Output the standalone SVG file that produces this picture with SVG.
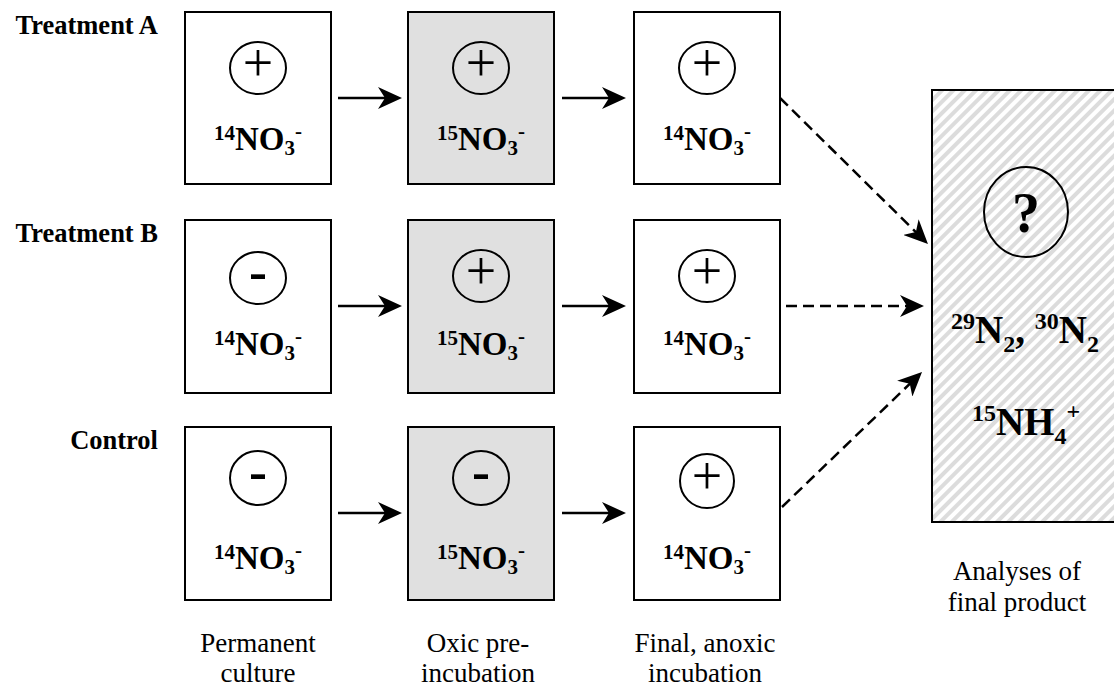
<svg xmlns="http://www.w3.org/2000/svg" width="1114" height="688" viewBox="0 0 1114 688">
<style>
.box{fill:#fff;stroke:#000;stroke-width:2}
.gbox{fill:#e0e0e0;stroke:#000;stroke-width:2}
.circ{fill:none;stroke:#000;stroke-width:2}
.lbl{font-family:"Liberation Serif","Times New Roman",serif;font-weight:bold;font-size:26.5px;text-anchor:end}
.chem{font-family:"Liberation Serif","Times New Roman",serif;font-weight:bold;font-size:33px;text-anchor:middle}
.big{font-family:"Liberation Serif","Times New Roman",serif;font-weight:bold;font-size:39px;text-anchor:middle}
.q{font-family:"Liberation Serif","Times New Roman",serif;font-weight:bold;font-size:56px;text-anchor:middle}
.plus{font-family:"Liberation Serif","Times New Roman",serif;font-size:54px;text-anchor:middle}
.minus{font-family:"Liberation Serif","Times New Roman",serif;font-weight:bold;font-size:54px;text-anchor:middle}
.cap{font-family:"Liberation Serif","Times New Roman",serif;font-size:27px;text-anchor:middle}
.arr{stroke:#000;stroke-width:2.5;fill:none;marker-end:url(#ah)}
.darr{stroke:#000;stroke-width:2.5;fill:none;stroke-dasharray:11 6;marker-end:url(#ah)}
</style>
<defs>
<marker id="ah" markerUnits="userSpaceOnUse" viewBox="0 0 24 22" refX="18" refY="11" markerWidth="24" markerHeight="22" orient="auto">
<path d="M0,0 L24,11 L0,22 L7,11 z" fill="#000"/>
</marker>
<pattern id="hatch" patternUnits="userSpaceOnUse" width="8" height="8" patternTransform="rotate(45)">
<rect width="8" height="8" fill="#fff"/>
<rect width="4" height="8" fill="#dcdcdc"/>
</pattern>
</defs>
<rect width="1114" height="688" fill="#fff"/>

<g id="row-labels">
<text class="lbl" x="158" y="34">Treatment A</text>
<text class="lbl" x="158" y="242">Treatment B</text>
<text class="lbl" x="158" y="449">Control</text>
</g>

<!-- Row A -->
<g id="a1">
<rect class="box" x="185" y="12" width="146" height="172"/>
<ellipse class="circ" cx="258" cy="68" rx="28" ry="26"/>
<text class="plus" x="258" y="81">+</text>
<text class="chem" x="258" y="150"><tspan font-size="21" dy="-10">14</tspan><tspan dy="10">NO</tspan><tspan font-size="21" dy="5">3</tspan><tspan font-size="21" dy="-17">-</tspan></text>
</g>
<g id="a2">
<rect class="gbox" x="408" y="12" width="146" height="172"/>
<ellipse class="circ" cx="481" cy="68" rx="28" ry="26"/>
<text class="plus" x="481" y="81">+</text>
<text class="chem" x="481" y="150"><tspan font-size="21" dy="-10">15</tspan><tspan dy="10">NO</tspan><tspan font-size="21" dy="5">3</tspan><tspan font-size="21" dy="-17">-</tspan></text>
</g>
<g id="a3">
<rect class="box" x="634" y="12" width="146" height="172"/>
<ellipse class="circ" cx="707" cy="68" rx="28" ry="26"/>
<text class="plus" x="707" y="81">+</text>
<text class="chem" x="707" y="150"><tspan font-size="21" dy="-10">14</tspan><tspan dy="10">NO</tspan><tspan font-size="21" dy="5">3</tspan><tspan font-size="21" dy="-17">-</tspan></text>
</g>

<!-- Row B -->
<g id="b1">
<rect class="box" x="185" y="220" width="146" height="173"/>
<ellipse class="circ" cx="258" cy="278" rx="28" ry="26"/>
<text class="minus" x="258" y="290">-</text>
<text class="chem" x="258" y="355"><tspan font-size="21" dy="-10">14</tspan><tspan dy="10">NO</tspan><tspan font-size="21" dy="5">3</tspan><tspan font-size="21" dy="-17">-</tspan></text>
</g>
<g id="b2">
<rect class="gbox" x="408" y="220" width="146" height="173"/>
<ellipse class="circ" cx="481" cy="276" rx="28" ry="26"/>
<text class="plus" x="481" y="289">+</text>
<text class="chem" x="481" y="355"><tspan font-size="21" dy="-10">15</tspan><tspan dy="10">NO</tspan><tspan font-size="21" dy="5">3</tspan><tspan font-size="21" dy="-17">-</tspan></text>
</g>
<g id="b3">
<rect class="box" x="634" y="220" width="146" height="173"/>
<ellipse class="circ" cx="707" cy="276" rx="28" ry="26"/>
<text class="plus" x="707" y="289">+</text>
<text class="chem" x="707" y="355"><tspan font-size="21" dy="-10">14</tspan><tspan dy="10">NO</tspan><tspan font-size="21" dy="5">3</tspan><tspan font-size="21" dy="-17">-</tspan></text>
</g>

<!-- Row C -->
<g id="c1">
<rect class="box" x="185" y="427" width="146" height="173"/>
<ellipse class="circ" cx="258" cy="478" rx="28" ry="27"/>
<text class="minus" x="258" y="490">-</text>
<text class="chem" x="258" y="569"><tspan font-size="21" dy="-10">14</tspan><tspan dy="10">NO</tspan><tspan font-size="21" dy="5">3</tspan><tspan font-size="21" dy="-17">-</tspan></text>
</g>
<g id="c2">
<rect class="gbox" x="408" y="427" width="146" height="173"/>
<ellipse class="circ" cx="481" cy="478" rx="28" ry="27"/>
<text class="minus" x="481" y="490">-</text>
<text class="chem" x="481" y="569"><tspan font-size="21" dy="-10">15</tspan><tspan dy="10">NO</tspan><tspan font-size="21" dy="5">3</tspan><tspan font-size="21" dy="-17">-</tspan></text>
</g>
<g id="c3">
<rect class="box" x="634" y="427" width="146" height="173"/>
<ellipse class="circ" cx="707" cy="481" rx="27" ry="27"/>
<text class="plus" x="707" y="494">+</text>
<text class="chem" x="707" y="569"><tspan font-size="21" dy="-10">14</tspan><tspan dy="10">NO</tspan><tspan font-size="21" dy="5">3</tspan><tspan font-size="21" dy="-17">-</tspan></text>
</g>

<!-- Result box -->
<g id="result">
<rect x="932" y="90" width="200" height="432" fill="url(#hatch)" stroke="#000" stroke-width="2"/>
<ellipse class="circ" cx="1026" cy="212" rx="42" ry="45"/>
<text class="q" x="1026" y="232">?</text>
<text class="big" x="1025" y="343"><tspan font-size="24" dy="-14">29</tspan><tspan dy="14">N</tspan><tspan font-size="24" dy="9">2</tspan><tspan dy="-9">, </tspan><tspan font-size="24" dy="-14">30</tspan><tspan dy="14">N</tspan><tspan font-size="24" dy="9">2</tspan></text>
<text class="big" x="1026" y="435"><tspan font-size="24" dy="-14">15</tspan><tspan dy="14">NH</tspan><tspan font-size="24" dy="9">4</tspan><tspan font-size="24" dy="-25">+</tspan></text>
</g>

<g id="captions">
<text class="cap" x="258" y="652">Permanent</text>
<text class="cap" x="258" y="682">culture</text>
<text class="cap" x="478" y="652">Oxic pre-</text>
<text class="cap" x="478" y="682">incubation</text>
<text class="cap" x="705" y="652">Final, anoxic</text>
<text class="cap" x="705" y="682">incubation</text>
<text class="cap" x="1017" y="580">Analyses of</text>
<text class="cap" x="1017" y="611">final product</text>
</g>

<g id="connectors">
<line class="arr" x1="338" y1="98" x2="396" y2="98"/>
<line class="arr" x1="562" y1="98" x2="620" y2="98"/>
<line class="arr" x1="338" y1="306" x2="396" y2="306"/>
<line class="arr" x1="562" y1="306" x2="620" y2="306"/>
<line class="arr" x1="338" y1="513" x2="396" y2="513"/>
<line class="arr" x1="562" y1="513" x2="620" y2="513"/>
<line class="darr" x1="780" y1="98" x2="923.7" y2="239.8"/>
<line class="darr" x1="786" y1="306" x2="918" y2="306"/>
<line class="darr" x1="782" y1="507" x2="917.7" y2="376.2"/>
</g>
</svg>
